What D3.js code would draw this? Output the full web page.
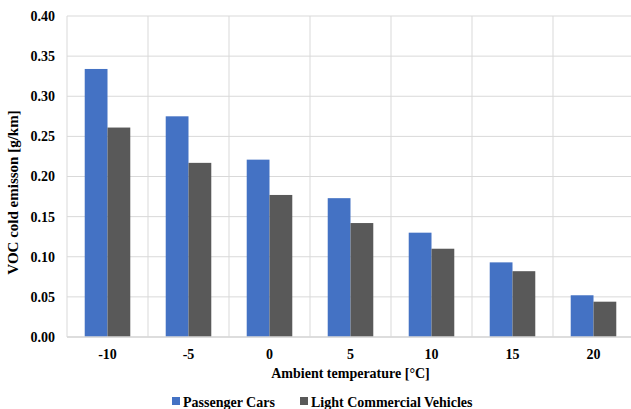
<!DOCTYPE html>
<html><head><meta charset="utf-8">
<script src="https://cdn.jsdelivr.net/npm/d3@7"></script>
<style>
html,body{margin:0;padding:0;background:#fff;overflow:hidden;}
svg{display:block;}
text{font-family:"Liberation Serif","Times New Roman",serif;font-weight:bold;fill:#000;}
</style></head>
<body>
<script>
const categories = ["-10","-5","0","5","10","15","20"];
const seriesNames = ["Passenger Cars","Light Commercial Vehicles"];
const passengerCars = [0.334,0.275,0.221,0.173,0.130,0.093,0.052];
const lightCommercial = [0.261,0.217,0.177,0.142,0.110,0.082,0.044];
const yTicks = [0,0.05,0.10,0.15,0.20,0.25,0.30,0.35,0.40];
const colors = ["#4472C4","#595959"];
const FONT = '"Liberation Serif","Times New Roman",serif';

const W = 631, H = 409;
const m = {left:67, right:-3, top:16, bottom:72};
const svg = d3.select("body").append("svg").attr("width",W).attr("height",H);
const iw = W - m.left - m.right, ih = H - m.top - m.bottom;
const g = svg.append("g").attr("transform",`translate(${m.left},${m.top})`);

const x = d3.scaleBand().domain(categories).range([0,iw]).paddingInner(0).paddingOuter(0);
const y = d3.scaleLinear().domain([0,0.4]).range([ih,0]);
const groupW = x.bandwidth()*0.5625;
const x1 = d3.scaleBand().domain(seriesNames).range([0,groupW]);

// gridlines
g.selectAll(".hg").data(yTicks).join("line")
  .attr("x1",0).attr("x2",iw).attr("y1",d=>y(d)).attr("y2",d=>y(d))
  .attr("stroke","#d9d9d9").attr("stroke-width",1);
g.selectAll(".vg").data(categories).join("line")
  .attr("x1",d=>x(d)).attr("x2",d=>x(d)).attr("y1",0).attr("y2",ih)
  .attr("stroke","#d9d9d9").attr("stroke-width",1);

const data = categories.map((c,i)=>({c, vals:[passengerCars[i], lightCommercial[i]]}));
const grp = g.selectAll(".grp").data(data).join("g")
  .attr("transform",d=>`translate(${x(d.c)+(x.bandwidth()-groupW)/2},0)`);
grp.selectAll("rect").data(d=>d.vals.map((v,j)=>({v,s:seriesNames[j],j})))
  .join("rect")
  .attr("x",d=>x1(d.s)).attr("width",x1.bandwidth())
  .attr("y",d=>y(d.v)).attr("height",d=>ih-y(d.v))
  .attr("fill",d=>colors[d.j]);

// baseline
g.append("line").attr("x1",0).attr("x2",iw).attr("y1",ih).attr("y2",ih)
  .attr("stroke","#d9d9d9").attr("stroke-width",1.5);

// y axis
const ya = g.append("g").call(d3.axisLeft(y).tickValues(yTicks).tickFormat(d3.format(".2f")).tickSize(0).tickPadding(12));
ya.select(".domain").remove();
ya.selectAll("text").style("font-size","14px").style("font-family",FONT).style("font-weight","bold");

// x axis
const xa = g.append("g").attr("transform",`translate(0,${ih})`).call(d3.axisBottom(x).tickSize(0).tickPadding(12));
xa.select(".domain").remove();
xa.selectAll("text").style("font-size","14px").style("font-family",FONT).style("font-weight","bold");

// titles
svg.append("text").attr("transform",`translate(18,${m.top+ih/2+16}) rotate(-90)`)
  .attr("text-anchor","middle").style("font-size","15px").style("font-family",FONT).text("VOC cold emisson [g/km]");
svg.append("text").attr("x",m.left+iw/2).attr("y",378)
  .attr("text-anchor","middle").style("font-size","14px").style("font-family",FONT).text("Ambient temperature [°C]");

// legend
const leg = svg.append("g").attr("transform","translate(0,402)");
const items = [{n:seriesNames[0],c:colors[0],x:172},{n:seriesNames[1],c:colors[1],x:300}];
items.forEach(it=>{
  leg.append("rect").attr("x",it.x).attr("y",-5).attr("width",8).attr("height",8).attr("fill",it.c);
  leg.append("text").attr("x",it.x+11).attr("y",4.5).style("font-size","14px").style("font-family",FONT).text(it.n);
});
</script>
</body></html>
